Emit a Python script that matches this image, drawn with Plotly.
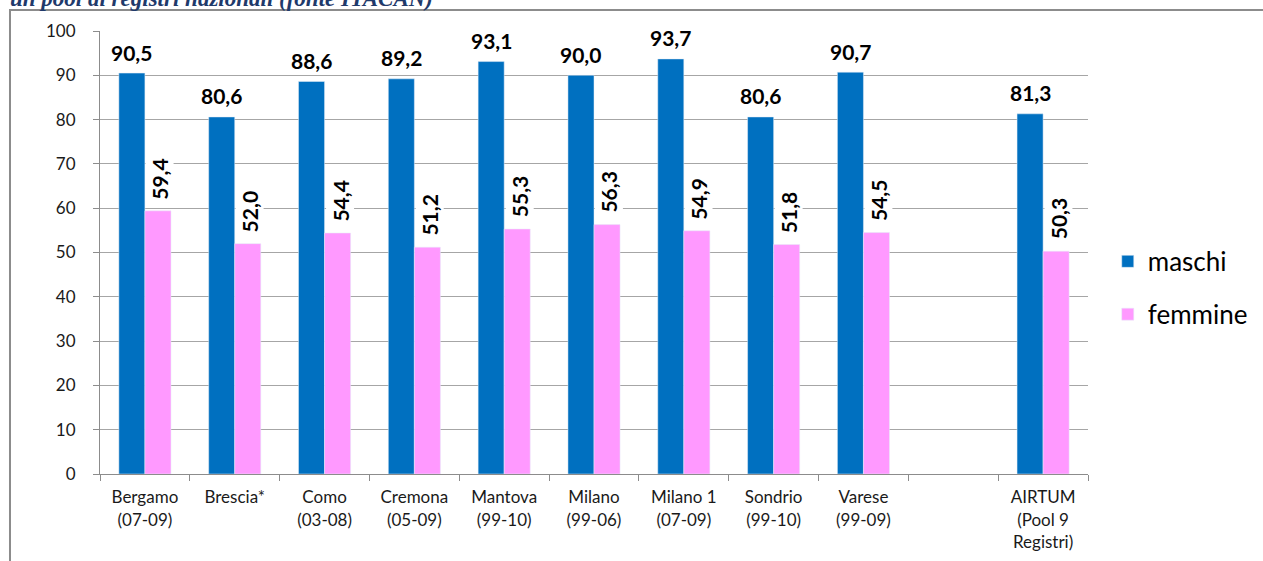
import plotly.graph_objects as go

# Registries (period of observation) and rates by sex
categories = [
    "Bergamo<br>(07-09)", "Brescia*", "Como<br>(03-08)", "Cremona<br>(05-09)",
    "Mantova<br>(99-10)", "Milano<br>(99-06)", "Milano 1<br>(07-09)",
    "Sondrio<br>(99-10)", "Varese<br>(99-09)", " ", "AIRTUM<br>(Pool 9<br>Registri)",
]
maschi = [90.5, 80.6, 88.6, 89.2, 93.1, 90.0, 93.7, 80.6, 90.7, None, 81.3]
femmine = [59.4, 52.0, 54.4, 51.2, 55.3, 56.3, 54.9, 51.8, 54.5, None, 50.3]
y_ticks = [0, 10, 20, 30, 40, 50, 60, 70, 80, 90, 100]

BLUE = "#0070C0"
PINK = "#FF99FF"
FONT = "Lato"
BARGAP = 0.42
half = (1 - BARGAP) / 4  # offset of each bar centre from the category centre

fig = go.Figure()
fig.add_trace(go.Bar(x=categories, y=maschi, name="maschi", marker_color=BLUE,
                     legendgroup="m"))
fig.add_trace(go.Bar(x=categories, y=femmine, name="femmine", marker_color=PINK,
                     legendgroup="f"))


def fmt(v):
    return f"{v:.1f}".replace(".", ",")


annotations = []
for i, (m, f) in enumerate(zip(maschi, femmine)):
    if m is not None:
        annotations.append(dict(
            x=i - half, y=m, xref="x", yref="y", text=f"<b>{fmt(m)}</b>",
            showarrow=False, yanchor="middle", yshift=21, bgcolor="white",
            font=dict(family=FONT, size=21, color="black"),
        ))
    if f is not None:
        annotations.append(dict(
            x=i + half, y=f, xref="x", yref="y", text=f"<b>{fmt(f)}</b>",
            showarrow=False, yanchor="middle", yshift=32, xshift=2,
            textangle=-90, bgcolor="white",
            font=dict(family=FONT, size=21, color="black"),
        ))

# Heading line of the page above the chart frame
annotations.append(dict(
    x=-0.0931, y=1.0406, xref="paper", yref="paper", xanchor="left",
    yanchor="bottom", showarrow=False,
    text="<b><i>un pool di registri nazionali (fonte ITACAN)</i></b>",
    font=dict(family="Liberation Serif", size=23, color="#1F3A6B"),
))

fig.update_layout(
    width=1263, height=561,
    margin=dict(l=100, r=175, t=31, b=87, pad=0, autoexpand=False),
    paper_bgcolor="white", plot_bgcolor="white",
    barmode="group", bargap=BARGAP, bargroupgap=0,
    separators=",.",
    font=dict(family=FONT, size=17, color="#1a1a1a"),
    legend=dict(x=1.02, y=0.42, xanchor="left", yanchor="middle",
                font=dict(family=FONT, size=26, color="black"),
                tracegroupgap=16, bgcolor="rgba(0,0,0,0)"),
    annotations=annotations,
    shapes=[dict(type="rect", xref="paper", yref="paper",
                 x0=-0.0911, x1=1.5, y0=-0.5, y1=1.0474,
                 line=dict(color="#8c8c8c", width=2), layer="below")],
)
fig.update_xaxes(
    type="category", tickson="boundaries", ticks="outside", ticklen=6,
    tickcolor="#8c8c8c", showline=True, linecolor="#8c8c8c", linewidth=1,
    showgrid=False, ticklabelstandoff=8,
    tickfont=dict(family=FONT, size=17, color="#1a1a1a"),
)
fig.update_yaxes(
    range=[0, 100], tickvals=y_ticks, ticks="outside", ticklen=6,
    tickcolor="#8c8c8c", showline=True, linecolor="#8c8c8c", linewidth=1,
    showgrid=True, gridcolor="#a6a6a6", gridwidth=1, zeroline=False,
    ticklabelstandoff=14,
    tickfont=dict(family=FONT, size=17, color="#1a1a1a"),
)

fig.write_html("out.html")
